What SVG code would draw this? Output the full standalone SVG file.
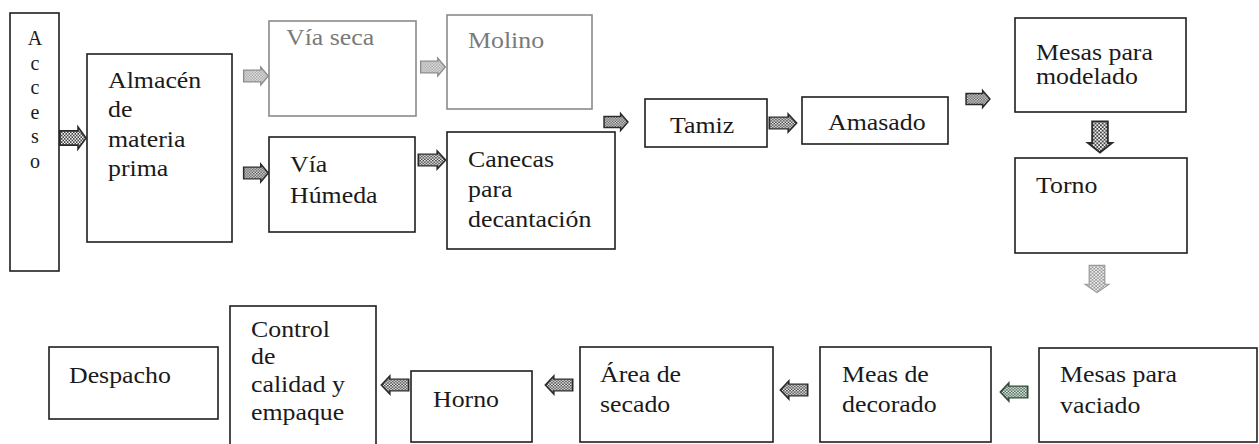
<svg xmlns="http://www.w3.org/2000/svg" xmlns:xlink="http://www.w3.org/1999/xlink" width="1259" height="444" viewBox="0 0 1259 444">
<style>
.box{fill:#fff;stroke:#1e1e1e;stroke-width:1.6}
.gbox{fill:#fff;stroke:#8a8a8a;stroke-width:1.6}
.t{font-family:"Liberation Serif","Times New Roman",serif;font-size:23.5px;fill:#1a1a1a}
.gt{fill:#7a7a7a}
.v{font-family:"Liberation Serif","Times New Roman",serif;font-size:20px;fill:#1a1a1a;text-anchor:middle}
.ad{stroke:#2a2a2a;stroke-width:1.6;fill:url(#dots)}
.ag{stroke:#8c8c8c;stroke-width:1.4;fill:url(#ldots)}
.agg{stroke:#9a9a9a;stroke-width:1;fill:url(#ldots)}
.agr{stroke:#2e4a3a;stroke-width:1.6;fill:url(#gdots)}
</style>
<defs>
<pattern id="dots" width="3" height="3" patternUnits="userSpaceOnUse">
<rect width="3" height="3" fill="#f0f0f0"/><rect width="1.5" height="1.5" fill="#444"/><rect x="1.5" y="1.5" width="1.5" height="1.5" fill="#444"/>
</pattern>
<pattern id="ldots" width="3" height="3" patternUnits="userSpaceOnUse">
<rect width="3" height="3" fill="#eee"/><rect width="1.5" height="1.5" fill="#999"/><rect x="1.5" y="1.5" width="1.5" height="1.5" fill="#999"/>
</pattern>
<pattern id="gdots" width="3" height="3" patternUnits="userSpaceOnUse">
<rect width="3" height="3" fill="#e4ece6"/><rect width="1.5" height="1.5" fill="#4a6a58"/><rect x="1.5" y="1.5" width="1.5" height="1.5" fill="#4a6a58"/>
</pattern>
<path id="arr" d="M-13,-6.5 H5 V-10 L13,0 L5,10 V6.5 H-13 Z"/>
</defs>
<rect width="1259" height="444" fill="#fff"/>

<g id="connectors">
<use xlink:href="#arr" class="ad" transform="translate(73,138) scale(1,1.1)"/>
<use xlink:href="#arr" class="ag" transform="translate(256,76) scale(0.95,0.9)"/>
<use xlink:href="#arr" class="ad" transform="translate(256,173) scale(0.95,0.9)"/>
<use xlink:href="#arr" class="ag" transform="translate(433,67) scale(0.95,0.9)"/>
<use xlink:href="#arr" class="ad" transform="translate(432,160) scale(1.05,0.9)"/>
<use xlink:href="#arr" class="ad" transform="translate(616,122) scale(0.92,0.85)"/>
<use xlink:href="#arr" class="ad" transform="translate(783,123) scale(1.05,0.9)"/>
<use xlink:href="#arr" class="ad" transform="translate(978,99) scale(0.92,0.85)"/>
<use xlink:href="#arr" class="ad" transform="translate(1100,137) rotate(90) scale(1.2,1.2)"/>
<use xlink:href="#arr" class="agg" transform="translate(1097,279) rotate(90) scale(1.05,1.2)"/>
<use xlink:href="#arr" class="agr" transform="translate(1014,392) scale(-1.05,0.9)"/>
<use xlink:href="#arr" class="ad" transform="translate(794,390) scale(-1.05,0.9)"/>
<use xlink:href="#arr" class="ad" transform="translate(559,385) scale(-1.05,0.9)"/>
<use xlink:href="#arr" class="ad" transform="translate(395,385) scale(-1.05,0.9)"/>
</g>

<g id="acceso">
<rect class="box" x="10" y="13" width="49" height="258"/>
<text class="v"><tspan x="35" y="45">A</tspan><tspan x="35" y="69.5">c</tspan><tspan x="35" y="94">c</tspan><tspan x="35" y="118.5">e</tspan><tspan x="35" y="143">s</tspan><tspan x="35" y="168">o</tspan></text>
</g>

<g id="almacen">
<rect class="box" x="87" y="54" width="145" height="188"/>
<text class="t" transform="translate(108,0) scale(1.1,1)"><tspan x="0" y="88">Almacén</tspan><tspan x="0" y="117.5">de</tspan><tspan x="0" y="147">materia</tspan><tspan x="0" y="176">prima</tspan></text>
</g>

<g id="via-seca">
<rect class="gbox" x="269" y="21" width="147" height="95"/>
<text class="t gt" transform="translate(286,0) scale(1.1,1)"><tspan x="0" y="45">Vía seca</tspan></text>
</g>

<g id="via-humeda">
<rect class="box" x="269" y="137" width="146" height="95"/>
<text class="t" transform="translate(290,0) scale(1.1,1)"><tspan x="0" y="172">Vía</tspan><tspan x="0" y="203">Húmeda</tspan></text>
</g>

<g id="molino">
<rect class="gbox" x="447" y="15" width="145" height="94"/>
<text class="t gt" transform="translate(468,0) scale(1.1,1)"><tspan x="0" y="48">Molino</tspan></text>
</g>

<g id="canecas">
<rect class="box" x="447" y="132" width="168" height="117"/>
<text class="t" transform="translate(468,0) scale(1.1,1)"><tspan x="0" y="167">Canecas</tspan><tspan x="0" y="197">para</tspan><tspan x="0" y="227">decantación</tspan></text>
</g>

<g id="tamiz">
<rect class="box" x="645" y="99" width="122" height="48"/>
<text class="t" transform="translate(670,0) scale(1.1,1)"><tspan x="0" y="133">Tamiz</tspan></text>
</g>

<g id="amasado">
<rect class="box" x="802" y="97" width="146" height="47"/>
<text class="t" transform="translate(828,0) scale(1.1,1)"><tspan x="0" y="130">Amasado</tspan></text>
</g>

<g id="mesas-modelado">
<rect class="box" x="1015" y="18" width="171" height="94"/>
<text class="t" transform="translate(1036,0) scale(1.1,1)"><tspan x="0" y="60">Mesas para</tspan><tspan x="0" y="84">modelado</tspan></text>
</g>

<g id="torno">
<rect class="box" x="1015" y="158" width="172" height="95"/>
<text class="t" transform="translate(1036,0) scale(1.1,1)"><tspan x="0" y="193">Torno</tspan></text>
</g>

<g id="mesas-vaciado">
<rect class="box" x="1039" y="348" width="218" height="94"/>
<text class="t" transform="translate(1060,0) scale(1.1,1)"><tspan x="0" y="382">Mesas para</tspan><tspan x="0" y="413">vaciado</tspan></text>
</g>

<g id="meas-decorado">
<rect class="box" x="820" y="347" width="171" height="95"/>
<text class="t" transform="translate(842,0) scale(1.1,1)"><tspan x="0" y="382">Meas de</tspan><tspan x="0" y="412">decorado</tspan></text>
</g>

<g id="area-secado">
<rect class="box" x="580" y="347" width="193" height="95"/>
<text class="t" transform="translate(600,0) scale(1.1,1)"><tspan x="0" y="382">Área de</tspan><tspan x="0" y="412">secado</tspan></text>
</g>

<g id="horno">
<rect class="box" x="411" y="371" width="121" height="71"/>
<text class="t" transform="translate(433,0) scale(1.1,1)"><tspan x="0" y="407">Horno</tspan></text>
</g>

<g id="control">
<rect class="box" x="230" y="306" width="146" height="150"/>
<text class="t" transform="translate(251,0) scale(1.1,1)"><tspan x="0" y="337">Control</tspan><tspan x="0" y="364">de</tspan><tspan x="0" y="392">calidad y</tspan><tspan x="0" y="420">empaque</tspan></text>
</g>

<g id="despacho">
<rect class="box" x="49" y="347" width="169" height="72"/>
<text class="t" transform="translate(69,0) scale(1.1,1)"><tspan x="0" y="383">Despacho</tspan></text>
</g>
</svg>
